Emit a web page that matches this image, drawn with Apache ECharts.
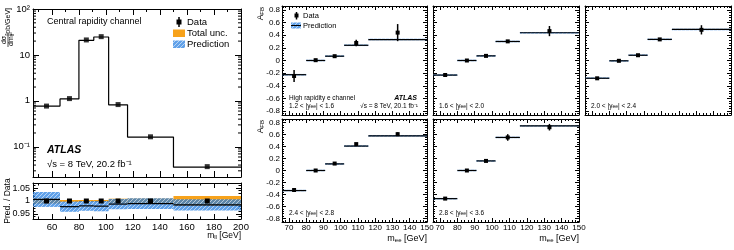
<!DOCTYPE html>
<html>
<head>
<meta charset="utf-8">
<script src="https://cdn.jsdelivr.net/npm/echarts@6/dist/echarts.min.js"></script>
<style>
html, body { margin: 0; padding: 0; background: #fff; }
#chart { width: 734px; height: 250px; }
</style>
</head>
<body>
<div id="chart"></div>
<script>
// central rapidity channel: d(sigma)/dm_ll
var massEdges = [46, 66, 80, 91, 102, 116, 150, 200];
var massCenters = [56, 73, 85.5, 96.5, 109, 133, 175];
var xsecData = [0.77, 1.12, 21.2, 25.0, 0.83, 0.165, 0.037];
var xsecPred = [0.77, 1.10, 20.8, 24.6, 0.82, 0.163, 0.036];
// ratio panel
var ratioData = [1, 1, 1, 1, 1, 1, 1];
var ratioPred = [1.006, 0.978, 0.981, 0.980, 0.988, 0.990, 0.985];
var ratioPredErr = [0.029, 0.020, 0.019, 0.020, 0.020, 0.021, 0.022];
var totalUnc = [0.010, 0.004, 0.004, 0.004, 0.009, 0.010, 0.019];

// high rapidity electron channel: A_FB per |y_ee| slice
var afbEdges = [66, 80, 91, 102, 116, 150];
var afbCenters = [73, 85.5, 96.5, 109, 133];
var rapLabels = ['1.2 < |y{sub|ee}| < 1.6', '1.6 < |y{sub|ee}| < 2.0', '2.0 < |y{sub|ee}| < 2.4',
                 '2.4 < |y{sub|ee}| < 2.8', '2.8 < |y{sub|ee}| < 3.6'];
var afbData = [
  [-0.245, 0.005, 0.068, 0.276, 0.44],
  [-0.229, 0.0, 0.073, 0.302, 0.464],
  [-0.281, -0.005, 0.083, 0.333, 0.484],
  [-0.326, 0.0, 0.116, 0.441, 0.607],
  [-0.469, 0.0, 0.16, 0.552, 0.723]
];
var afbErr = [
  [0.094, 0.02, 0.02, 0.05, 0.135],
  [0.02, 0.015, 0.015, 0.02, 0.08],
  [0.02, 0.015, 0.015, 0.02, 0.073],
  [0.02, 0.015, 0.015, 0.02, 0.03],
  [0.02, 0.015, 0.015, 0.055, 0.055]
];
var afbPred = [
  [-0.224, 0.0, 0.068, 0.24, 0.33],
  [-0.23, 0.0, 0.073, 0.30, 0.438],
  [-0.28, -0.005, 0.083, 0.333, 0.49],
  [-0.335, 0.0, 0.11, 0.408, 0.579],
  [-0.47, 0.0, 0.16, 0.552, 0.745]
];

var LF = 'Liberation Sans';
var chart = echarts.init(document.getElementById('chart'));
var grids = [], xAxes = [], yAxes = [], series = [], graphics = [];

function steps(a, b, s) {
  var r = [];
  for (var v = a; v <= b + 1e-9; v += s) r.push(+v.toFixed(6));
  return r;
}

function hatch() {
  var c = document.createElement('canvas');
  c.width = 4; c.height = 4;
  var g = c.getContext('2d');
  g.fillStyle = 'rgba(35,125,225,0.72)';
  g.fillRect(0, 0, 4, 4);
  g.fillStyle = 'rgba(255,255,255,0.55)';
  for (var i = 0; i < 4; i++) g.fillRect(i, 3 - i, 1, 1);
  return {image: c, repeat: 'repeat'};
}
var HATCH = hatch();
var ORANGE = '#f7a21b';

function frame(rect, xr, yr, o) {
  var gi = grids.length;
  grids.push({left: rect[0], top: rect[1], width: rect[2], height: rect[3]});
  var xi = xAxes.length, yi = yAxes.length;
  ['bottom', 'top'].forEach(function (pos, k) {
    xAxes.push({gridIndex: gi, type: 'value', position: pos, min: xr[0], max: xr[1],
      axisLine: {show: true, onZero: false, lineStyle: {color: '#000', width: 1}},
      axisTick: {show: true, inside: true, length: o.tl, customValues: o.xMaj, lineStyle: {color: '#000'}},
      axisLabel: {show: k === 0 && !!o.xLab, customValues: o.xMaj, margin: o.xm, color: '#000',
        fontFamily: LF, fontSize: o.fs, formatter: function (v) { return String(v); }},
      splitLine: {show: false}});
    xAxes.push({gridIndex: gi, type: 'value', position: pos, min: xr[0], max: xr[1],
      axisLine: {show: false, onZero: false},
      axisTick: {show: true, inside: true, length: o.tl / 2, customValues: o.xMin, lineStyle: {color: '#000'}},
      axisLabel: {show: false}, splitLine: {show: false}});
  });
  ['left', 'right'].forEach(function (pos, k) {
    if (o.yLog) {
      yAxes.push({gridIndex: gi, type: 'log', position: pos, min: yr[0], max: yr[1],
        axisLine: {show: true, onZero: false, lineStyle: {color: '#000', width: 1}},
        axisTick: {show: true, inside: true, length: o.tl, lineStyle: {color: '#000'}},
        axisLabel: {show: k === 0, showMinLabel: false, margin: o.ym, color: '#000',
          fontFamily: LF, fontSize: o.yfs, formatter: o.yFmt},
        splitLine: {show: false}, minorTick: {show: false}});
      return;
    }
    yAxes.push({gridIndex: gi, type: 'value', position: pos, min: yr[0], max: yr[1],
      axisLine: {show: true, onZero: false, lineStyle: {color: '#000', width: 1}},
      axisTick: {show: true, inside: true, length: o.tl, customValues: o.yMaj, lineStyle: {color: '#000'}},
      axisLabel: {show: k === 0 && !!o.yLab, customValues: o.yMaj, margin: o.ym, color: '#000',
        fontFamily: LF, fontSize: o.yfs, formatter: o.yFmt},
      splitLine: {show: false}});
    yAxes.push({gridIndex: gi, type: 'value', position: pos, min: yr[0], max: yr[1],
      axisLine: {show: false, onZero: false},
      axisTick: {show: true, inside: true, length: o.tl / 2, customValues: o.yMin, lineStyle: {color: '#000'}},
      axisLabel: {show: false}, splitLine: {show: false}});
  });
  return {x: xi, y: yi};
}

function bandSeries(ax, rows, fill, z) {
  return {type: 'custom', xAxisIndex: ax.x, yAxisIndex: ax.y, silent: true, z: z, data: rows,
    renderItem: function (p, api) {
      var a = api.coord([api.value(0), api.value(2) + api.value(3)]);
      var b = api.coord([api.value(1), api.value(2) - api.value(3)]);
      return {type: 'rect', shape: {x: a[0], y: a[1], width: b[0] - a[0], height: b[1] - a[1]},
        style: {fill: fill}};
    }};
}

function segSeries(ax, rows, w, z) {
  return {type: 'custom', xAxisIndex: ax.x, yAxisIndex: ax.y, silent: true, z: z, data: rows,
    renderItem: function (p, api) {
      var a = api.coord([api.value(0), api.value(2)]);
      var b = api.coord([api.value(1), api.value(2)]);
      return {type: 'line', shape: {x1: a[0], y1: a[1], x2: b[0], y2: b[1]},
        style: {stroke: '#000', lineWidth: w}};
    }};
}

function pointSeries(ax, rows, size, z) {
  return {type: 'custom', xAxisIndex: ax.x, yAxisIndex: ax.y, silent: true, z: z, data: rows,
    renderItem: function (p, api) {
      var c = api.coord([api.value(0), api.value(1)]);
      var lo = api.coord([api.value(0), api.value(1) - api.value(2)]);
      var hi = api.coord([api.value(0), api.value(1) + api.value(2)]);
      return {type: 'group', children: [
        {type: 'line', shape: {x1: c[0], y1: lo[1], x2: c[0], y2: hi[1]}, style: {stroke: '#000', lineWidth: 1.5}},
        {type: 'rect', shape: {x: c[0] - size / 2, y: c[1] - size / 2, width: size, height: size}, style: {fill: '#000'}}
      ]};
    }};
}

function binRows(edges, vals, half) {
  return vals.map(function (v, i) { return [edges[i], edges[i + 1], v, half ? half[i] : 0]; });
}

var SUP = {'-': '\u207b', '0': '\u2070', '1': '\u00b9', '2': '\u00b2', '3': '\u00b3'};
function logLabel(v) {
  var e = Math.round(Math.log10(v));
  if (e === 0) return '1';
  if (e === 1) return '10';
  return '10' + String(e).split('').map(function (c) { return SUP[c]; }).join('');
}
function afbLabel(v) {
  var s = (+v).toFixed(1);
  return (s === '0.0' || s === '-0.0') ? '0' : s;
}

function txt(x, y, text, fs, o) {
  o = o || {};
  return {type: 'text', x: x, y: y, rotation: o.rot || 0, silent: true, z: 100,
    style: {text: text, fill: '#000', fontFamily: LF, fontSize: fs,
      fontWeight: o.bold ? 'bold' : 'normal', fontStyle: o.italic ? 'italic' : 'normal',
      textAlign: o.align || 'left', textVerticalAlign: o.valign || 'middle',
      rich: {sub: {fontFamily: LF, fontSize: Math.round(fs * 0.72), lineHeight: Math.round(fs * 0.55),
        verticalAlign: 'bottom', fill: '#000'}}}};
}

// ---- left: cross section
var top = frame([33, 9, 208, 168], [46, 200], [0.022, 100], {
  xMaj: steps(60, 200, 20), xMin: steps(50, 200, 10), xLab: false, fs: 9.5, xm: 3,
  yLog: true, yfs: 9.5, ym: 3, yFmt: logLabel, tl: 6
});
var minorLog = [];
[-2, -1, 0, 1].forEach(function (k) {
  for (var m = 2; m <= 9; m++) {
    var v = m * Math.pow(10, k);
    if (v > 0.022 && v < 100) minorLog.push([massEdges[0], v]);
  }
});
series.push({type: 'custom', xAxisIndex: top.x, yAxisIndex: top.y, silent: true, z: 1, data: minorLog,
  renderItem: function (p, api) {
    var cs = p.coordSys, y = api.coord([api.value(0), api.value(1)])[1];
    return {type: 'group', children: [
      {type: 'line', shape: {x1: cs.x, y1: y, x2: cs.x + 3, y2: y}, style: {stroke: '#000', lineWidth: 1}},
      {type: 'line', shape: {x1: cs.x + cs.width - 3, y1: y, x2: cs.x + cs.width, y2: y}, style: {stroke: '#000', lineWidth: 1}}
    ]};
  }});
var histPts = xsecPred.map(function (v, i) { return [massEdges[i], v]; });
histPts.push([massEdges[massEdges.length - 1], xsecPred[xsecPred.length - 1]]);
series.push({type: 'line', xAxisIndex: top.x, yAxisIndex: top.y, step: 'end', symbol: 'none',
  data: histPts, lineStyle: {color: '#000', width: 1.2}, silent: true, z: 3});
series.push({type: 'scatter', xAxisIndex: top.x, yAxisIndex: top.y, symbol: 'rect', symbolSize: 5,
  data: massCenters.map(function (x, i) { return [x, xsecData[i]]; }), itemStyle: {color: '#000'}, z: 5});

// ---- left: ratio
var rat = frame([33, 183, 208, 36], [46, 200], [0.93, 1.07], {
  xMaj: steps(60, 200, 20), xMin: steps(50, 200, 10), xLab: true, fs: 9.5, xm: 3,
  yMaj: [0.95, 1, 1.05], yMin: steps(0.93, 1.07, 0.01), yLab: true, yfs: 9, ym: 3,
  yFmt: function (v) { return v === 1 ? '1' : (+v).toFixed(2); }, tl: 5
});
series.push(bandSeries(rat, binRows(massEdges, ratioData, totalUnc), ORANGE, 2));
series.push(bandSeries(rat, binRows(massEdges, ratioPred, ratioPredErr), HATCH, 3));
series.push(segSeries(rat, binRows(massEdges, ratioPred), 1.2, 4));
series.push(pointSeries(rat, massCenters.map(function (x, i) { return [x, ratioData[i], 0.002]; }), 5, 5));

// ---- right: A_FB panels
var panelRects = [
  [282, 6, 145, 109], [433, 6, 146, 109], [585, 6, 146, 109],
  [282, 119, 145, 103], [433, 119, 146, 103]
];
panelRects.forEach(function (r, p) {
  var ax = frame(r, [66, 150], [-0.86, 0.86], {
    xMaj: steps(70, 150, 10), xMin: steps(66, 150, 2), xLab: p >= 3, fs: 8, xm: 2,
    yMaj: steps(-0.8, 0.8, 0.2), yMin: steps(-0.84, 0.84, 0.04), yLab: p === 0 || p === 3, yfs: 8, ym: 2,
    yFmt: afbLabel, tl: 4
  });
  series.push(bandSeries(ax, binRows(afbEdges, afbPred[p], afbPred[p].map(function () { return 0.012; })), HATCH, 2));
  series.push(segSeries(ax, binRows(afbEdges, afbPred[p]), 1.2, 3));
  series.push(pointSeries(ax, afbCenters.map(function (x, i) { return [x, afbData[p][i], afbErr[p][i]]; }), 4, 5));
  graphics.push(txt(r[0] + (p === 0 || p === 3 ? 7 : 6), r[1] + r[3] - 9, rapLabels[p], 6.5));
});

// left panel texts
graphics.push(txt(47, 22, 'Central rapidity channel', 9));
graphics.push(txt(47, 150, 'ATLAS', 10.5, {bold: true, italic: true}));
graphics.push(txt(47, 164, '\u221as = 8 TeV, 20.2 fb\u207b\u00b9', 9.5));
// left legend
graphics.push({type: 'line', shape: {x1: 179, y1: 17, x2: 179, y2: 27}, style: {stroke: '#000', lineWidth: 1.5}, z: 100});
graphics.push({type: 'rect', shape: {x: 176.5, y: 19.5, width: 5, height: 5}, style: {fill: '#000'}, z: 100});
graphics.push(txt(187, 22, 'Data', 9.5));
graphics.push({type: 'rect', shape: {x: 173, y: 29.5, width: 12, height: 7.5}, style: {fill: ORANGE}, z: 100});
graphics.push(txt(187, 33, 'Total unc.', 9.5));
graphics.push({type: 'rect', shape: {x: 173, y: 40.5, width: 12, height: 7.5}, style: {fill: HATCH}, z: 100});
graphics.push(txt(187, 44, 'Prediction', 9.5));
// left axis titles
graphics.push(txt(8, 8, '[pb/GeV]', 7, {rot: Math.PI / 2, align: 'right'}));
graphics.push(txt(4.5, 40, 'd\u03c3', 7, {rot: Math.PI / 2, align: 'center'}));
graphics.push(txt(11.5, 40, 'dm{sub|ll}', 7, {rot: Math.PI / 2, align: 'center'}));
graphics.push({type: 'line', shape: {x1: 8, y1: 33, x2: 8, y2: 47}, style: {stroke: '#000', lineWidth: 0.7}, z: 100});
graphics.push(txt(8, 201, 'Pred. / Data', 8.5, {rot: Math.PI / 2, align: 'center'}));
graphics.push(txt(241, 236, 'm{sub|ll} [GeV]', 8.5, {align: 'right'}));

// right panel texts
graphics.push(txt(289, 98, 'High rapidity e channel', 6.5));
graphics.push(txt(417, 98, 'ATLAS', 7, {bold: true, italic: true, align: 'right'}));
graphics.push(txt(418, 106, '\u221as = 8 TeV, 20.1 fb\u207b\u00b9', 6.5, {align: 'right'}));
graphics.push({type: 'line', shape: {x1: 296.5, y1: 12, x2: 296.5, y2: 19.5}, style: {stroke: '#000', lineWidth: 1.5}, z: 100});
graphics.push({type: 'rect', shape: {x: 294.5, y: 13.5, width: 4, height: 4}, style: {fill: '#000'}, z: 100});
graphics.push(txt(303, 15.5, 'Data', 7.5));
graphics.push({type: 'rect', shape: {x: 291, y: 22.5, width: 10, height: 6}, style: {fill: HATCH}, z: 100});
graphics.push({type: 'line', shape: {x1: 291, y1: 25.5, x2: 301, y2: 25.5}, style: {stroke: '#000', lineWidth: 1}, z: 100});
graphics.push(txt(303, 25.5, 'Prediction', 7.5));
graphics.push(txt(261, 7, 'A{sub|FB}', 8.5, {rot: Math.PI / 2, align: 'right'}));
graphics.push(txt(261, 120, 'A{sub|FB}', 8.5, {rot: Math.PI / 2, align: 'right'}));
graphics.push(txt(427, 239, 'm{sub|ee} [GeV]', 9, {align: 'right'}));
graphics.push(txt(579, 239, 'm{sub|ee} [GeV]', 9, {align: 'right'}));

chart.setOption({
  animation: false,
  textStyle: {fontFamily: LF},
  grid: grids,
  xAxis: xAxes,
  yAxis: yAxes,
  series: series,
  graphic: graphics
});
</script>
</body>
</html>
